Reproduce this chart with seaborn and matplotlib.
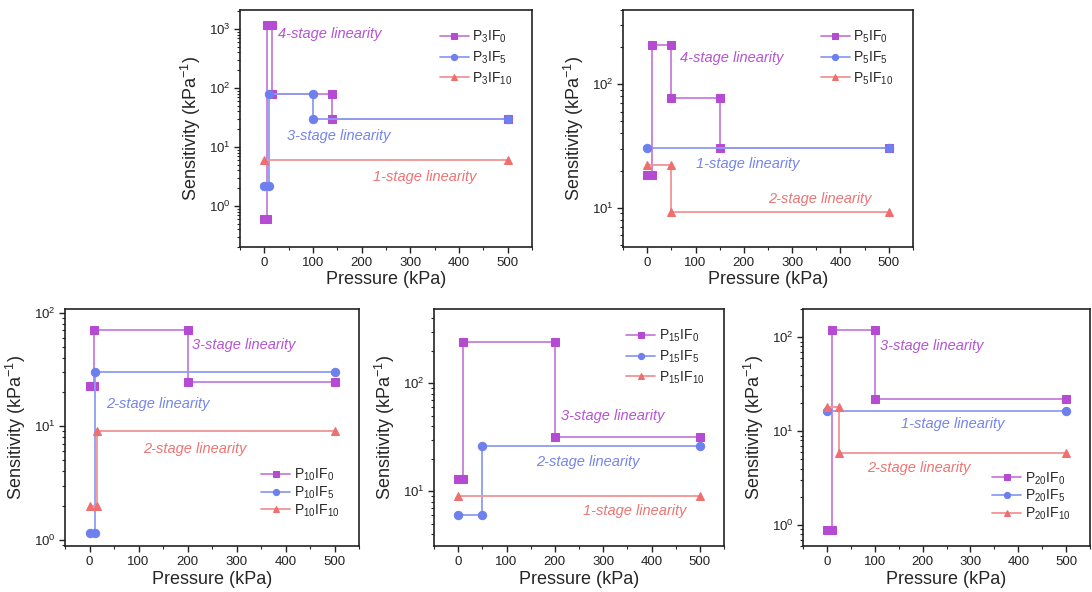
import numpy as np
import pandas as pd
import matplotlib
matplotlib.use("Agg")
import matplotlib.pyplot as plt
from matplotlib.ticker import MultipleLocator, LogLocator
import seaborn as sns

# ---------------- data: stage boundaries (kPa) and sensitivities (kPa^-1) ----------------
P3IF0_p = [0, 5, 15, 140, 500];   P3IF0_s = [0.6, 1150, 80, 30]
P3IF5_p = [0, 10, 100, 500];      P3IF5_s = [2.2, 78, 30]
P3IF10_p = [0, 500];              P3IF10_s = [6]

P5IF0_p = [0, 10, 50, 150, 500];  P5IF0_s = [18.5, 210, 78, 30.5]
P5IF5_p = [0, 500];               P5IF5_s = [30.5]
P5IF10_p = [0, 50, 500];          P5IF10_s = [22, 9.2]

P10IF0_p = [0, 10, 200, 500];     P10IF0_s = [22.5, 70, 24.5]
P10IF5_p = [0, 12, 500];          P10IF5_s = [1.15, 30]
P10IF10_p = [0, 15, 500];         P10IF10_s = [2.0, 9.0]

P15IF0_p = [0, 10, 200, 500];     P15IF0_s = [13, 240, 32]
P15IF5_p = [0, 50, 500];          P15IF5_s = [6, 26.5]
P15IF10_p = [0, 500];             P15IF10_s = [9]

P20IF0_p = [0, 10, 100, 500];     P20IF0_s = [0.88, 120, 22]
P20IF5_p = [0, 500];              P20IF5_s = [16.5]
P20IF10_p = [0, 25, 500];         P20IF10_s = [18, 5.8]

labels_p = ["3", "5", "10", "15", "20"]
labels_if = ["0", "5", "10"]

stage_texts = {
    "3": ["4-stage linearity", "3-stage linearity", "1-stage linearity"],
    "5": ["4-stage linearity", "1-stage linearity", "2-stage linearity"],
    "10": ["3-stage linearity", "2-stage linearity", "2-stage linearity"],
    "15": ["3-stage linearity", "2-stage linearity", "1-stage linearity"],
    "20": ["3-stage linearity", "1-stage linearity", "2-stage linearity"],
}
# ------------------------------------------------------------------------------------------

series = {
    "3": [(P3IF0_p, P3IF0_s), (P3IF5_p, P3IF5_s), (P3IF10_p, P3IF10_s)],
    "5": [(P5IF0_p, P5IF0_s), (P5IF5_p, P5IF5_s), (P5IF10_p, P5IF10_s)],
    "10": [(P10IF0_p, P10IF0_s), (P10IF5_p, P10IF5_s), (P10IF10_p, P10IF10_s)],
    "15": [(P15IF0_p, P15IF0_s), (P15IF5_p, P15IF5_s), (P15IF10_p, P15IF10_s)],
    "20": [(P20IF0_p, P20IF0_s), (P20IF5_p, P20IF5_s), (P20IF10_p, P20IF10_s)],
}


def steps(p, s):
    xs, ys = [], []
    for i, v in enumerate(s):
        xs += [p[i], p[i + 1]]
        ys += [v, v]
    return xs, ys


sns.set_theme(style="ticks")
plt.rcParams["font.family"] = ["Liberation Sans", "DejaVu Sans"]
plt.rcParams["mathtext.fontset"] = "custom"
plt.rcParams["mathtext.rm"] = "Liberation Sans"
plt.rcParams["mathtext.it"] = "Liberation Sans:italic"

line_cols = ["#C77EDB", "#8E9CF2", "#F29494"]
mark_cols = ["#B44BD2", "#6E80EE", "#EF6E6E"]
text_cols = ["#B653D3", "#7484EC", "#EE7373"]
markers = ["s", "o", "^"]

W, H = 1092, 592
fig = plt.figure(figsize=(W / 100, H / 100), dpi=100)


def ax_px(l, t, r, b):
    return fig.add_axes([l / W, 1 - b / H, (r - l) / W, (b - t) / H])


layout = {
    "3": dict(box=(240, 10, 532, 247), ylim=(0.2, 2100),
              leg=dict(loc="upper right", bbox=(0.99, 0.99), sp=0.3),
              txt=[(29, 820), (47, 15.5), (223, 3.1)]),
    "5": dict(box=(623, 10, 913, 247), ylim=(4.8, 400),
              leg=dict(loc="upper right", bbox=(0.99, 0.99), sp=0.3),
              txt=[(68, 163), (100, 22.7), (250, 11.8)]),
    "10": dict(box=(65, 309, 359, 546), ylim=(0.88, 108),
               leg=dict(loc="lower right", bbox=(0.99, 0.045), sp=0.1),
               txt=[(210, 52), (33, 15.8), (110, 6.3)]),
    "15": dict(box=(434, 309, 724, 546), ylim=(3.1, 490),
               leg=dict(loc="upper right", bbox=(0.99, 0.99), sp=0.3),
               txt=[(212, 50), (161, 18.7), (259, 6.6)]),
    "20": dict(box=(803, 309, 1090, 546), ylim=(0.6, 200),
               leg=dict(loc="lower right", bbox=(0.99, 0.03), sp=0.1),
               txt=[(110, 80), (155, 11.9), (84, 4.1)]),
}

for pk in labels_p:
    cfg = layout[pk]
    ax = ax_px(*cfg["box"])
    for j, (p, s) in enumerate(series[pk]):
        xs, ys = steps(p, s)
        df = pd.DataFrame({"x": xs, "y": ys})
        sns.lineplot(data=df, x="x", y="y", sort=False, estimator=None, ax=ax,
                     color=line_cols[j], lw=1.3, marker=markers[j], markersize=6,
                     markerfacecolor=mark_cols[j], markeredgecolor=mark_cols[j],
                     label=r"$\mathregular{P_{%s}IF_{%s}}$" % (pk, labels_if[j]))
    ax.set_yscale("log")
    ax.set_ylim(*cfg["ylim"])
    ax.set_xlim(-50, 550)
    ax.xaxis.set_major_locator(MultipleLocator(100))
    ax.xaxis.set_minor_locator(MultipleLocator(50))
    ax.yaxis.set_major_locator(LogLocator(base=10, numticks=10))
    ax.yaxis.set_minor_locator(LogLocator(base=10, subs=np.arange(2, 10), numticks=20))
    ax.tick_params(axis="both", which="major", direction="out", length=4, width=1,
                   labelsize=9.5, colors="#222222", pad=3)
    ax.tick_params(axis="both", which="minor", direction="out", length=2.5, width=0.8)
    for sp in ax.spines.values():
        sp.set_visible(True)
        sp.set_linewidth(1.2)
        sp.set_color("#222222")
    ax.set_xlabel("Pressure (kPa)", fontsize=13, labelpad=2)
    ax.set_ylabel(r"Sensitivity (kPa$^{-1}$)", fontsize=13, labelpad=4)
    for j, (tx, ty) in enumerate(cfg["txt"]):
        ax.text(tx, ty, stage_texts[pk][j], color=text_cols[j], fontsize=10.5,
                style="italic", va="center", ha="left")
    leg = ax.legend(loc=cfg["leg"]["loc"], bbox_to_anchor=cfg["leg"]["bbox"], frameon=False,
                    fontsize=10, handlelength=2.1, handletextpad=0.25,
                    labelspacing=cfg["leg"]["sp"], borderaxespad=0.8, markerscale=0.75)

fig.savefig("out.png", dpi=100)
